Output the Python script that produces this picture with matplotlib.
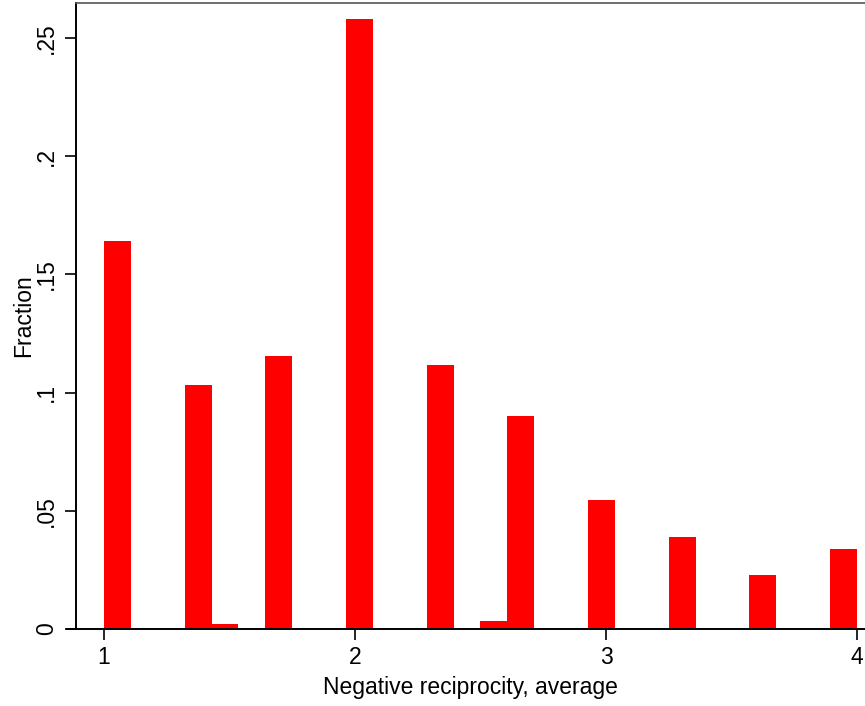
import numpy as np
import matplotlib
matplotlib.use("Agg")
import matplotlib.pyplot as plt
from matplotlib.lines import Line2D

# Histogram: 28 bins of equal width over [1, 4]
bin_lo, bin_hi, n_bins = 1.0, 4.0, 28
bin_index = [0, 3, 4, 6, 9, 12, 14, 15, 18, 21, 24, 27]
fractions = [0.1641, 0.1032, 0.0021, 0.1155, 0.2580, 0.1117,
             0.0034, 0.0901, 0.0546, 0.0390, 0.0228, 0.0338]
xticks = [1, 2, 3, 4]
xtick_labels = ["1", "2", "3", "4"]
yticks = [0, 0.05, 0.1, 0.15, 0.2, 0.25]
ytick_labels = ["0", ".05", ".1", ".15", ".2", ".25"]

plt.rcParams['font.family'] = ['Liberation Sans', 'DejaVu Sans']

fig = plt.figure(figsize=(8.65, 7.06), dpi=100)
ax = fig.add_axes([76/865, (706-629)/706, 1 - 76/865, (629-3)/706])

width = (bin_hi - bin_lo) / n_bins
lefts = [bin_lo + i * width for i in bin_index]
ax.bar(lefts, fractions, width=width, align='edge', color='#ff0000',
       edgecolor='none', linewidth=0)

ax.set_xlim(0.8884, 4.032)
ax.set_ylim(0, 0.2648)

ax.set_xticks(xticks)
ax.set_xticklabels(xtick_labels)
ax.set_yticks(yticks)
ax.set_yticklabels(ytick_labels, rotation=90, va='center')

ax.tick_params(axis='both', direction='out', length=8, width=1.2,
               labelsize=16.5, colors='black', pad=4)
ax.tick_params(axis='y', pad=5)
ax.set_xlabel("Negative reciprocity, average", fontsize=16.5, labelpad=5)
ax.set_ylabel("Fraction", fontsize=16.5, labelpad=0)

for s in ['left', 'bottom']:
    ax.spines[s].set_linewidth(1.4)
ax.spines['top'].set_linewidth(1.2)
ax.spines['top'].set_color('#555555')
ax.spines['right'].set_visible(False)

# bottom axis line extends slightly left of the y axis
ax.add_line(Line2D([-0.011, 0], [0, 0], transform=ax.transAxes,
                   color='black', linewidth=1.4, clip_on=False))

fig.savefig("out.png", dpi=100)
